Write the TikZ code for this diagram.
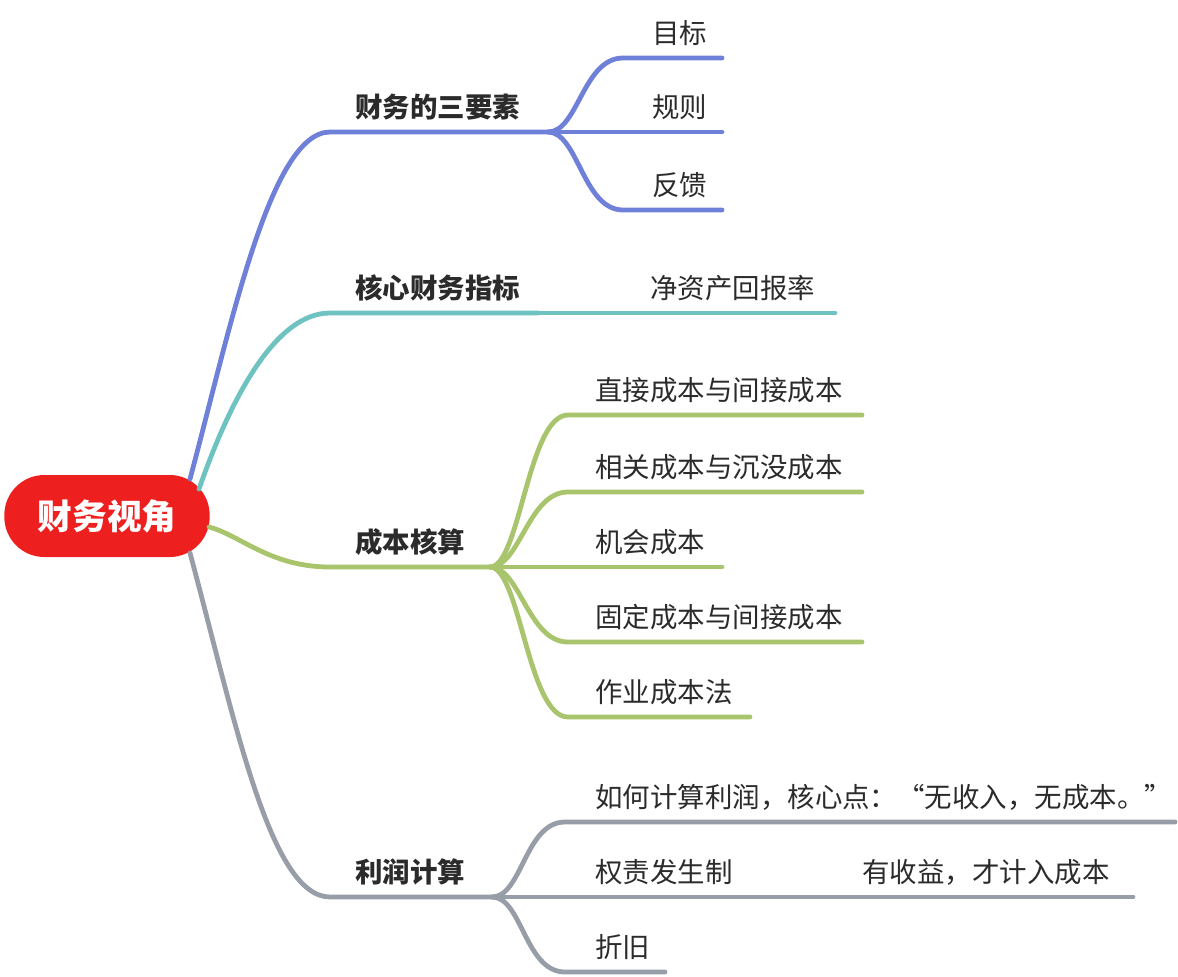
\documentclass[tikz,border=0pt]{standalone}
\usepackage{fontspec}
\setmainfont{Noto Sans CJK SC}
\definecolor{rootred}{HTML}{EE1F1F}
\definecolor{lblue}{HTML}{6F80D8}
\definecolor{lteal}{HTML}{6EC3C1}
\definecolor{lgreen}{HTML}{A8C46C}
\definecolor{lgray}{HTML}{979EA8}
\definecolor{txt}{HTML}{2B2B2B}

\begin{document}
\begin{tikzpicture}[
        x=0.75pt, y=-0.75pt,
        root/.style={rectangle, rounded corners=30pt, fill=rootred, text=white, minimum width=154pt, minimum height=61.5pt, inner sep=0pt, font=\bfseries\fontsize{26}{30}\selectfont},
        topic/.style={anchor=base west, inner sep=0pt, text=txt, font=\bfseries\fontsize{20.6}{24}\selectfont},
        leaf/.style={anchor=base west, inner sep=0pt, text=txt, font=\fontsize{20.6}{24}\selectfont},
        line/.style={line width=3.6pt, line cap=round}
    ]
    \useasboundingbox (0,0) rectangle (1178,976);

    \node[root] (root) at (107,516) {财务视角};

    % where the branches leave the root
    \coordinate (s1) at (190,479);
    \coordinate (s2) at (199,489);
    \coordinate (s3) at (209,527);
    \coordinate (s4) at (190,553);

    % 财务的三要素
    \node[topic] (elem) at (355,117) {财务的三要素};
    \node[leaf] (goal) at (652,43) {目标};
    \node[leaf] (rule) at (652,117) {规则};
    \node[leaf] (feed) at (652,195) {反馈};
    \coordinate (elemL) at (330,132);
    \coordinate (elemF) at (548,132);
    \coordinate (goalL) at (623,58);   \coordinate (goalR) at (722,58);
    \coordinate (ruleL) at (623,132);  \coordinate (ruleR) at (722,132);
    \coordinate (feedL) at (623,210);  \coordinate (feedR) at (722,210);

    % 核心财务指标
    \node[topic] (kpi) at (355,298) {核心财务指标};
    \node[leaf] (roe) at (650,298) {净资产回报率};
    \coordinate (kpiL) at (330,313);
    \coordinate (kpiR) at (538,313);
    \coordinate (roeR) at (835,313);

    % 成本核算
    \node[topic] (cost) at (355,552) {成本核算};
    \node[leaf] (c1) at (595,400) {直接成本与间接成本};
    \node[leaf] (c2) at (595,477) {相关成本与沉没成本};
    \node[leaf] (c3) at (595,552) {机会成本};
    \node[leaf] (c4) at (595,627) {固定成本与间接成本};
    \node[leaf] (c5) at (595,702) {作业成本法};
    \coordinate (costL) at (330,567);
    \coordinate (costF) at (490,567);
    \coordinate (c1L) at (568,415);  \coordinate (c1R) at (862,415);
    \coordinate (c2L) at (568,492);  \coordinate (c2R) at (862,492);
    \coordinate (c3L) at (568,567);  \coordinate (c3R) at (722,567);
    \coordinate (c4L) at (568,642);  \coordinate (c4R) at (862,642);
    \coordinate (c5L) at (568,717);  \coordinate (c5R) at (750,717);

    % 利润计算
    \node[topic] (profit) at (355,882) {利润计算};
    \node[leaf] (p1) at (595,807) {如何计算利润，核心点：“无收入，无成本。”};
    \node[leaf] (p2) at (595,882) {权责发生制};
    \node[leaf] (p2a) at (862,882) {有收益，才计入成本};
    \node[leaf] (p3) at (595,957) {折旧};
    \coordinate (profitL) at (330,897);
    \coordinate (profitF) at (492,897);
    \coordinate (p1L) at (565,822);  \coordinate (p1R) at (1175,822);
    \coordinate (p2L) at (565,897);  \coordinate (p2M) at (683,897);
    \coordinate (p2R) at (1133,897);
    \coordinate (p3L) at (565,972);  \coordinate (p3R) at (665,972);

    % main branches
    \draw[line, lblue] (s1) .. controls +(40,-149) and +(-60,0) .. (elemL) -- (elemF);
    \draw[line, lteal] (s2) .. controls +(31,-89) and +(-55,0) .. (kpiL) -- (kpiR);
    \draw[line, lgreen] (s3) .. controls +(31,8) and +(-60,0) .. (costL) -- (costF);
    \draw[line, lgray] (s4) .. controls +(45,167) and +(-60,0) .. (profitL) -- (profitF);

    % 财务的三要素 children
    \draw[line, lblue] (elemF) .. controls +(30,0) and +(-40,0) .. (goalL) -- (goalR);
    \draw[line, lblue] (elemF) -- (ruleL) -- (ruleR);
    \draw[line, lblue] (elemF) .. controls +(30,0) and +(-40,0) .. (feedL) -- (feedR);

    % 核心财务指标 child
    \draw[line, lteal] (kpiR) -- (roeR);

    % 成本核算 children
    \draw[line, lgreen] (costF) .. controls +(30,0) and +(-40,0) .. (c1L) -- (c1R);
    \draw[line, lgreen] (costF) .. controls +(30,0) and +(-40,0) .. (c2L) -- (c2R);
    \draw[line, lgreen] (costF) -- (c3L) -- (c3R);
    \draw[line, lgreen] (costF) .. controls +(30,0) and +(-40,0) .. (c4L) -- (c4R);
    \draw[line, lgreen] (costF) .. controls +(30,0) and +(-40,0) .. (c5L) -- (c5R);

    % 利润计算 children
    \draw[line, lgray] (profitF) .. controls +(30,0) and +(-40,0) .. (p1L) -- (p1R);
    \draw[line, lgray] (profitF) -- (p2L) -- (p2M);
    \draw[line, lgray] (p2M) -- (p2R);
    \draw[line, lgray] (profitF) .. controls +(30,0) and +(-40,0) .. (p3L) -- (p3R);
\end{tikzpicture}
\end{document}
